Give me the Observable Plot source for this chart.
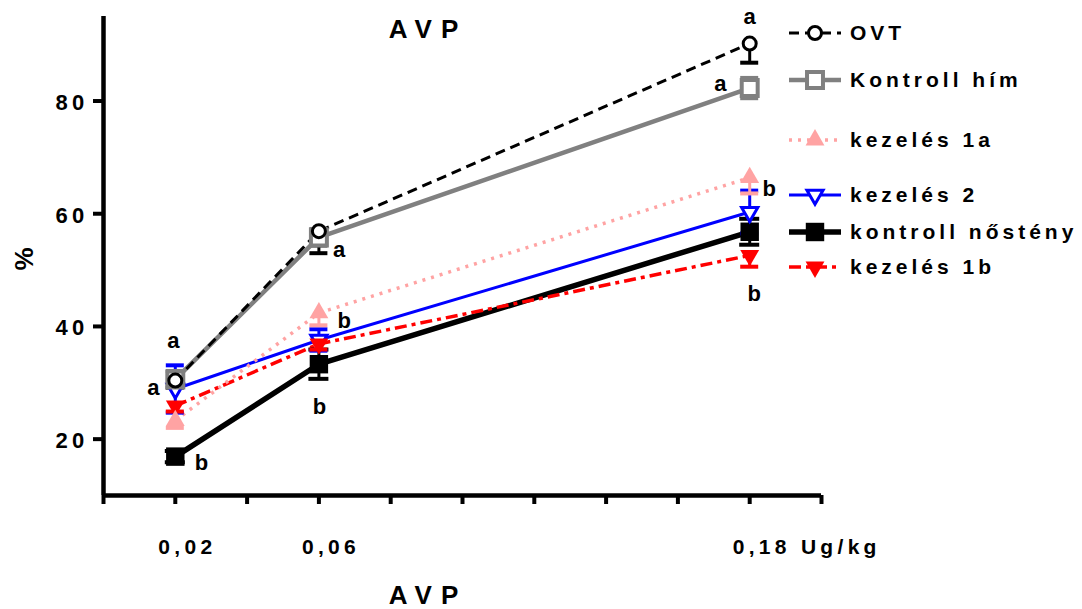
<!DOCTYPE html>
<html><head><meta charset="utf-8">
<script src="https://cdn.jsdelivr.net/npm/d3@7"></script>
<script src="https://cdn.jsdelivr.net/npm/@observablehq/plot@0.6"></script>
<style>
body{margin:0;background:#fff;}
#wrap{position:relative;width:1082px;height:609px;font-family:"Liberation Sans",Arial,sans-serif;font-weight:bold;color:#000;}
.ttl{position:absolute;font-size:26px;letter-spacing:9px;transform:translate(-50%,-50%);white-space:nowrap;line-height:1;}
.ylab{position:absolute;font-size:26px;transform:translate(-50%,-50%) rotate(-90deg);line-height:1;}
.li{position:absolute;left:787px;display:flex;align-items:center;font-size:21px;letter-spacing:4px;white-space:nowrap;transform:translateY(-50%);}
.li svg{margin-right:7px;}
#wrap svg text{letter-spacing:4.3px;}
</style></head><body><div id="wrap"></div>
<script>
// ---- data ----
const doses = [0.02, 0.06, 0.18];
const seriesNames = ["OVT", "Kontroll hím", "kezelés 1a", "kezelés 2", "kontroll nőstény", "kezelés 1b"];
const ovtMean = [30.4, 56.9, 90.2];
const ovtErrDown = [1.2, 3.9, 3.4];
const ovtErrUp = [0, 0, 0];
const himMean = [30.6, 55.8, 82.3];
const himErrDown = [1.5, 1.5, 1.8];
const himErrUp = [1.5, 1.5, 1.8];
const k1aMean = [23.3, 42.4, 66.4];
const k1aErrDown = [1.3, 2.2, 2.8];
const k1aErrUp = [0, 0, 0];
const k2Mean = [28.9, 37.6, 60.3];
const k2ErrDown = [4.2, 1.9, 3.8];
const k2ErrUp = [4.2, 1.9, 3.8];
const nosMean = [16.9, 33.3, 56.8];
const nosErrDown = [1.0, 2.6, 2.3];
const nosErrUp = [1.0, 2.6, 2.3];
const k1bMean = [25.9, 36.9, 52.6];
const k1bErrDown = [1.0, 1.0, 2.0];
const k1bErrUp = [0, 0, 0];
const xTickValues = [0, 0.02, 0.04, 0.06, 0.08, 0.1, 0.12, 0.14, 0.16, 0.18, 0.2];
const xLabelValues = [0.02, 0.06, 0.18];
const xLabelTexts = ["0,02", "0,06", "0,18 Ug/kg"];
const yTickValues = [20, 40, 60, 80];
const letterTexts = ["a", "a", "b", "a", "b", "b", "a", "a", "b", "b"];
const letterX = [0.0195, 0.0139, 0.0273, 0.0657, 0.0671, 0.0602, 0.18, 0.1719, 0.1855, 0.1813];
const letterY = [37.4, 29.1, 15.7, 53.6, 40.9, 25.7, 94.9, 83.0, 64.4, 45.7];
const titleText = "AVP";
const xTitle = "AVP";
const yTitle = "%";

// ---- build table ----
const means = [ovtMean, himMean, k1aMean, k2Mean, nosMean, k1bMean];
const errDown = [ovtErrDown, himErrDown, k1aErrDown, k2ErrDown, nosErrDown, k1bErrDown];
const errUp = [ovtErrUp, himErrUp, k1aErrUp, k2ErrUp, nosErrUp, k1bErrUp];
const rows = [];
seriesNames.forEach((s, si) => doses.forEach((d, di) => rows.push({
  series: s, x: d, y: means[si][di],
  lo: means[si][di] - errDown[si][di], hi: means[si][di] + errUp[si][di],
  hasLo: errDown[si][di] > 0, hasHi: errUp[si][di] > 0
})));
const letters = letterTexts.map((t, i) => ({t, x: letterX[i], y: letterY[i]}));
const xLabels = xLabelTexts.map((t, i) => ({t, x: xLabelValues[i]}));

const sqrt3 = Math.sqrt(3);
const triDown = {draw(ctx, size) {
  const y = -Math.sqrt(size / (sqrt3 * 3));
  ctx.moveTo(0, -y * 2); ctx.lineTo(-sqrt3 * y, y); ctx.lineTo(sqrt3 * y, y); ctx.closePath();
}};

const styles = {
  "OVT": {stroke: "#000", sw: 3, dash: "10,6", symbol: "circle", r: 6.5, fill: "#fff", symStroke: "#000", symSw: 3, cap: 9},
  "Kontroll hím": {stroke: "#808080", sw: 4.5, dash: null, symbol: "square", r: 9, fill: "#fff", symStroke: "#808080", symSw: 4, cap: 9},
  "kezelés 1a": {stroke: "#FFA3A3", sw: 3.5, dash: "3,6", symbol: "triangle", r: 7, fill: "#FFA3A3", symStroke: "none", symSw: 0, cap: 9},
  "kezelés 2": {stroke: "#0000FF", sw: 3, dash: null, symbol: triDown, r: 6, fill: "#fff", symStroke: "#0000FF", symSw: 3, cap: 9},
  "kontroll nőstény": {stroke: "#000", sw: 5.5, dash: null, symbol: "square", r: 10.4, fill: "#000", symStroke: "none", symSw: 0, cap: 10},
  "kezelés 1b": {stroke: "#FF0000", sw: 3.5, dash: "12,5,4,5", symbol: triDown, r: 7, fill: "#FF0000", symStroke: "none", symSw: 0, cap: 9}
};
const drawOrder = ["kontroll nőstény", "kezelés 2", "kezelés 1b", "kezelés 1a", "Kontroll hím", "OVT"];

const lineMarks = drawOrder.map(s => {
  const st = styles[s];
  return Plot.line(rows.filter(r => r.series === s), {x: "x", y: "y", stroke: st.stroke, strokeWidth: st.sw, strokeDasharray: st.dash || undefined, strokeLinecap: "butt"});
});
const errMarks = drawOrder.flatMap(s => {
  const st = styles[s];
  const data = rows.filter(r => r.series === s);
  const col = st.stroke;
  return [
    Plot.ruleX(data, {x: "x", y1: "lo", y2: "hi", stroke: col, strokeWidth: 3}),
    Plot.ruleY(data.filter(r => r.hasLo), {x1: "x", x2: "x", y: "lo", stroke: col, strokeWidth: 4, insetLeft: -st.cap, insetRight: -st.cap}),
    Plot.ruleY(data.filter(r => r.hasHi), {x1: "x", x2: "x", y: "hi", stroke: col, strokeWidth: 4, insetLeft: -st.cap, insetRight: -st.cap})
  ];
});
const dotMarks = drawOrder.map(s => {
  const st = styles[s];
  return Plot.dot(rows.filter(r => r.series === s), {x: "x", y: "y", symbol: st.symbol, r: st.r, fill: st.fill, stroke: st.symStroke, strokeWidth: st.symSw});
});

const chart = Plot.plot({
  width: 1082, height: 609,
  marginLeft: 103, marginRight: 261, marginTop: 16, marginBottom: 114,
  x: {domain: [0, 0.2]},
  y: {domain: [10, 95]},
  style: {fontFamily: '"Liberation Sans", Arial, sans-serif', fontWeight: "bold", background: "white", overflow: "visible", color: "#000"},
  marks: [
    Plot.axisY({ticks: yTickValues, tickSize: 10, strokeWidth: 4, label: null, tickFormat: () => ""}),
    Plot.axisY({ticks: yTickValues, tickSize: 0, tickPadding: 15, fontSize: 22, dy: 2, label: null, tickFormat: d => String(d)}),
    Plot.axisX({ticks: xTickValues, tickSize: 9, tickFormat: () => "", strokeWidth: 4, label: null}),
    Plot.text(xLabels, {x: "x", text: "t", frameAnchor: "bottom", dy: 58, dx: -17, textAnchor: "start", fontSize: 21}),
    Plot.ruleX([0], {strokeWidth: 4.5}),
    Plot.ruleY([10], {strokeWidth: 4.5}),
    ...lineMarks,
    ...errMarks,
    ...dotMarks,
    Plot.text(letters, {x: "x", y: "y", text: "t", fontSize: 22, dx: 2, fill: "#000"})
  ]
});

const wrap = document.getElementById("wrap");
wrap.appendChild(chart);
function addDiv(cls, text, left, top) {
  const d = document.createElement("div");
  d.className = cls; d.textContent = text;
  d.style.left = left + "px"; d.style.top = top + "px";
  wrap.appendChild(d);
  return d;
}
addDiv("ttl", titleText, 428, 29);
addDiv("ttl", xTitle, 428, 595);
addDiv("ylab", yTitle, 24, 259);

// legend
const legendY = [33, 80, 140, 195, 232, 267];
seriesNames.forEach((s, i) => {
  const st = styles[s];
  const row = document.createElement("div");
  row.className = "li";
  row.style.top = legendY[i] + "px";
  const svg = d3.create("svg").attr("width", 56).attr("height", 26);
  svg.append("line").attr("x1", 2).attr("x2", 54).attr("y1", 13).attr("y2", 13)
    .attr("stroke", st.stroke).attr("stroke-width", st.sw).attr("stroke-dasharray", st.dash || null);
  const symType = st.symbol === "circle" ? d3.symbolCircle : st.symbol === "square" ? d3.symbolSquare : st.symbol === "triangle" ? d3.symbolTriangle : st.symbol;
  svg.append("path").attr("transform", "translate(28,13)")
    .attr("d", d3.symbol(symType, st.r * st.r * Math.PI)())
    .attr("fill", st.fill).attr("stroke", st.symStroke).attr("stroke-width", st.symSw);
  row.appendChild(svg.node());
  const sp = document.createElement("span");
  sp.textContent = s;
  row.appendChild(sp);
  wrap.appendChild(row);
});
</script></body></html>
